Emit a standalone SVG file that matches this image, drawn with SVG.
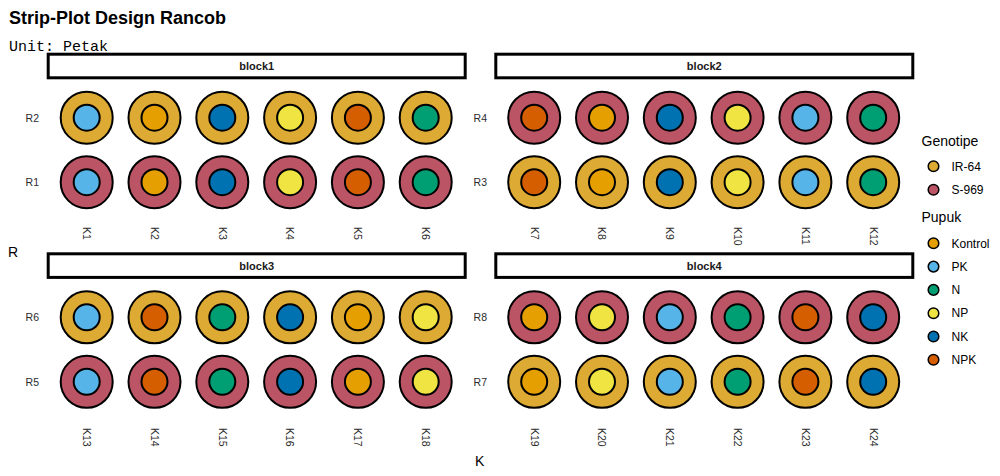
<svg xmlns="http://www.w3.org/2000/svg" width="1000" height="476" viewBox="0 0 1000 476">
<style>
.title{font-family:"Liberation Sans",Arial,sans-serif;font-weight:bold;font-size:18px;fill:#000}
.sub{font-family:"Liberation Mono","Courier New",monospace;font-size:15px;fill:#000}
.strip{fill:#fff;stroke:#000;stroke-width:3}
.stext{font-family:"Liberation Sans",Arial,sans-serif;font-weight:bold;font-size:11px;fill:#1a1a1a;text-anchor:middle}
.tick{font-family:"Liberation Sans",Arial,sans-serif;font-size:10.5px;fill:#2b2b2b}
.rl{text-anchor:end}
.axt{font-family:"Liberation Sans",Arial,sans-serif;font-size:14px;fill:#000}
.ltitle{font-family:"Liberation Sans",Arial,sans-serif;font-size:14px;fill:#000}
.ltext{font-family:"Liberation Sans",Arial,sans-serif;font-size:12px;fill:#000}
circle{stroke:#000;stroke-width:2}
.lk{stroke-width:1.5}
.ir{fill:#DDAA33}.s9{fill:#BB5566}
.ko{fill:#E69F00}.pk{fill:#56B4E9}.n{fill:#009E73}.np{fill:#F0E442}.nk{fill:#0072B2}.npk{fill:#D55E00}
</style>
<rect width="1000" height="476" fill="#fff"/>
<text class="title" x="9" y="24">Strip-Plot Design Rancob</text>
<text class="sub" x="9" y="50.5">Unit: Petak</text>

<g id="strips">
<rect class="strip" x="48.2" y="54.2" width="417" height="23.6"/>
<text class="stext" x="256.7" y="70">block1</text>
<rect class="strip" x="495.8" y="54.2" width="417" height="23.6"/>
<text class="stext" x="704.3" y="70">block2</text>
<rect class="strip" x="48.2" y="253.8" width="417" height="23.6"/>
<text class="stext" x="256.7" y="269.6">block3</text>
<rect class="strip" x="495.8" y="253.8" width="417" height="23.6"/>
<text class="stext" x="704.3" y="269.6">block4</text>
</g>

<g id="row-labels">
<text class="tick rl" x="39" y="121.7">R2</text>
<text class="tick rl" x="39" y="186.2">R1</text>
<text class="tick rl" x="487" y="121.7">R4</text>
<text class="tick rl" x="487" y="186.2">R3</text>
<text class="tick rl" x="39" y="321.3">R6</text>
<text class="tick rl" x="39" y="385.8">R5</text>
<text class="tick rl" x="487" y="321.3">R8</text>
<text class="tick rl" x="487" y="385.8">R7</text>
</g>

<g id="col-labels">
<text class="tick" transform="translate(86.7,227) rotate(90)" dy="0.35em">K1</text>
<text class="tick" transform="translate(154.5,227) rotate(90)" dy="0.35em">K2</text>
<text class="tick" transform="translate(222.3,227) rotate(90)" dy="0.35em">K3</text>
<text class="tick" transform="translate(290.1,227) rotate(90)" dy="0.35em">K4</text>
<text class="tick" transform="translate(357.9,227) rotate(90)" dy="0.35em">K5</text>
<text class="tick" transform="translate(425.7,227) rotate(90)" dy="0.35em">K6</text>
<text class="tick" transform="translate(534.2,227) rotate(90)" dy="0.35em">K7</text>
<text class="tick" transform="translate(602,227) rotate(90)" dy="0.35em">K8</text>
<text class="tick" transform="translate(669.8,227) rotate(90)" dy="0.35em">K9</text>
<text class="tick" transform="translate(737.6,227) rotate(90)" dy="0.35em">K10</text>
<text class="tick" transform="translate(805.4,227) rotate(90)" dy="0.35em">K11</text>
<text class="tick" transform="translate(873.2,227) rotate(90)" dy="0.35em">K12</text>
<text class="tick" transform="translate(86.7,428) rotate(90)" dy="0.35em">K13</text>
<text class="tick" transform="translate(154.5,428) rotate(90)" dy="0.35em">K14</text>
<text class="tick" transform="translate(222.3,428) rotate(90)" dy="0.35em">K15</text>
<text class="tick" transform="translate(290.1,428) rotate(90)" dy="0.35em">K16</text>
<text class="tick" transform="translate(357.9,428) rotate(90)" dy="0.35em">K17</text>
<text class="tick" transform="translate(425.7,428) rotate(90)" dy="0.35em">K18</text>
<text class="tick" transform="translate(534.2,428) rotate(90)" dy="0.35em">K19</text>
<text class="tick" transform="translate(602,428) rotate(90)" dy="0.35em">K20</text>
<text class="tick" transform="translate(669.8,428) rotate(90)" dy="0.35em">K21</text>
<text class="tick" transform="translate(737.6,428) rotate(90)" dy="0.35em">K22</text>
<text class="tick" transform="translate(805.4,428) rotate(90)" dy="0.35em">K23</text>
<text class="tick" transform="translate(873.2,428) rotate(90)" dy="0.35em">K24</text>
</g>

<text class="axt" x="8" y="256.5">R</text>
<text class="axt" x="475" y="465.5">K</text>

<!-- block1 -->
<g id="b1-R2-K1"><circle class="ir" cx="86.7" cy="117.7" r="26"/><circle class="pk" cx="86.7" cy="117.7" r="13"/></g>
<g id="b1-R2-K2"><circle class="ir" cx="154.5" cy="117.7" r="26"/><circle class="ko" cx="154.5" cy="117.7" r="13"/></g>
<g id="b1-R2-K3"><circle class="ir" cx="222.3" cy="117.7" r="26"/><circle class="nk" cx="222.3" cy="117.7" r="13"/></g>
<g id="b1-R2-K4"><circle class="ir" cx="290.1" cy="117.7" r="26"/><circle class="np" cx="290.1" cy="117.7" r="13"/></g>
<g id="b1-R2-K5"><circle class="ir" cx="357.9" cy="117.7" r="26"/><circle class="npk" cx="357.9" cy="117.7" r="13"/></g>
<g id="b1-R2-K6"><circle class="ir" cx="425.7" cy="117.7" r="26"/><circle class="n" cx="425.7" cy="117.7" r="13"/></g>
<g id="b1-R1-K1"><circle class="s9" cx="86.7" cy="182.2" r="26"/><circle class="pk" cx="86.7" cy="182.2" r="13"/></g>
<g id="b1-R1-K2"><circle class="s9" cx="154.5" cy="182.2" r="26"/><circle class="ko" cx="154.5" cy="182.2" r="13"/></g>
<g id="b1-R1-K3"><circle class="s9" cx="222.3" cy="182.2" r="26"/><circle class="nk" cx="222.3" cy="182.2" r="13"/></g>
<g id="b1-R1-K4"><circle class="s9" cx="290.1" cy="182.2" r="26"/><circle class="np" cx="290.1" cy="182.2" r="13"/></g>
<g id="b1-R1-K5"><circle class="s9" cx="357.9" cy="182.2" r="26"/><circle class="npk" cx="357.9" cy="182.2" r="13"/></g>
<g id="b1-R1-K6"><circle class="s9" cx="425.7" cy="182.2" r="26"/><circle class="n" cx="425.7" cy="182.2" r="13"/></g>
<!-- block2 -->
<g id="b2-R4-K7"><circle class="s9" cx="534.2" cy="117.7" r="26"/><circle class="npk" cx="534.2" cy="117.7" r="13"/></g>
<g id="b2-R4-K8"><circle class="s9" cx="602" cy="117.7" r="26"/><circle class="ko" cx="602" cy="117.7" r="13"/></g>
<g id="b2-R4-K9"><circle class="s9" cx="669.8" cy="117.7" r="26"/><circle class="nk" cx="669.8" cy="117.7" r="13"/></g>
<g id="b2-R4-K10"><circle class="s9" cx="737.6" cy="117.7" r="26"/><circle class="np" cx="737.6" cy="117.7" r="13"/></g>
<g id="b2-R4-K11"><circle class="s9" cx="805.4" cy="117.7" r="26"/><circle class="pk" cx="805.4" cy="117.7" r="13"/></g>
<g id="b2-R4-K12"><circle class="s9" cx="873.2" cy="117.7" r="26"/><circle class="n" cx="873.2" cy="117.7" r="13"/></g>
<g id="b2-R3-K7"><circle class="ir" cx="534.2" cy="182.2" r="26"/><circle class="npk" cx="534.2" cy="182.2" r="13"/></g>
<g id="b2-R3-K8"><circle class="ir" cx="602" cy="182.2" r="26"/><circle class="ko" cx="602" cy="182.2" r="13"/></g>
<g id="b2-R3-K9"><circle class="ir" cx="669.8" cy="182.2" r="26"/><circle class="nk" cx="669.8" cy="182.2" r="13"/></g>
<g id="b2-R3-K10"><circle class="ir" cx="737.6" cy="182.2" r="26"/><circle class="np" cx="737.6" cy="182.2" r="13"/></g>
<g id="b2-R3-K11"><circle class="ir" cx="805.4" cy="182.2" r="26"/><circle class="pk" cx="805.4" cy="182.2" r="13"/></g>
<g id="b2-R3-K12"><circle class="ir" cx="873.2" cy="182.2" r="26"/><circle class="n" cx="873.2" cy="182.2" r="13"/></g>
<!-- block3 -->
<g id="b3-R6-K13"><circle class="ir" cx="86.7" cy="317.3" r="26"/><circle class="pk" cx="86.7" cy="317.3" r="13"/></g>
<g id="b3-R6-K14"><circle class="ir" cx="154.5" cy="317.3" r="26"/><circle class="npk" cx="154.5" cy="317.3" r="13"/></g>
<g id="b3-R6-K15"><circle class="ir" cx="222.3" cy="317.3" r="26"/><circle class="n" cx="222.3" cy="317.3" r="13"/></g>
<g id="b3-R6-K16"><circle class="ir" cx="290.1" cy="317.3" r="26"/><circle class="nk" cx="290.1" cy="317.3" r="13"/></g>
<g id="b3-R6-K17"><circle class="ir" cx="357.9" cy="317.3" r="26"/><circle class="ko" cx="357.9" cy="317.3" r="13"/></g>
<g id="b3-R6-K18"><circle class="ir" cx="425.7" cy="317.3" r="26"/><circle class="np" cx="425.7" cy="317.3" r="13"/></g>
<g id="b3-R5-K13"><circle class="s9" cx="86.7" cy="381.8" r="26"/><circle class="pk" cx="86.7" cy="381.8" r="13"/></g>
<g id="b3-R5-K14"><circle class="s9" cx="154.5" cy="381.8" r="26"/><circle class="npk" cx="154.5" cy="381.8" r="13"/></g>
<g id="b3-R5-K15"><circle class="s9" cx="222.3" cy="381.8" r="26"/><circle class="n" cx="222.3" cy="381.8" r="13"/></g>
<g id="b3-R5-K16"><circle class="s9" cx="290.1" cy="381.8" r="26"/><circle class="nk" cx="290.1" cy="381.8" r="13"/></g>
<g id="b3-R5-K17"><circle class="s9" cx="357.9" cy="381.8" r="26"/><circle class="ko" cx="357.9" cy="381.8" r="13"/></g>
<g id="b3-R5-K18"><circle class="s9" cx="425.7" cy="381.8" r="26"/><circle class="np" cx="425.7" cy="381.8" r="13"/></g>
<!-- block4 -->
<g id="b4-R8-K19"><circle class="s9" cx="534.2" cy="317.3" r="26"/><circle class="ko" cx="534.2" cy="317.3" r="13"/></g>
<g id="b4-R8-K20"><circle class="s9" cx="602" cy="317.3" r="26"/><circle class="np" cx="602" cy="317.3" r="13"/></g>
<g id="b4-R8-K21"><circle class="s9" cx="669.8" cy="317.3" r="26"/><circle class="pk" cx="669.8" cy="317.3" r="13"/></g>
<g id="b4-R8-K22"><circle class="s9" cx="737.6" cy="317.3" r="26"/><circle class="n" cx="737.6" cy="317.3" r="13"/></g>
<g id="b4-R8-K23"><circle class="s9" cx="805.4" cy="317.3" r="26"/><circle class="npk" cx="805.4" cy="317.3" r="13"/></g>
<g id="b4-R8-K24"><circle class="s9" cx="873.2" cy="317.3" r="26"/><circle class="nk" cx="873.2" cy="317.3" r="13"/></g>
<g id="b4-R7-K19"><circle class="ir" cx="534.2" cy="381.8" r="26"/><circle class="ko" cx="534.2" cy="381.8" r="13"/></g>
<g id="b4-R7-K20"><circle class="ir" cx="602" cy="381.8" r="26"/><circle class="np" cx="602" cy="381.8" r="13"/></g>
<g id="b4-R7-K21"><circle class="ir" cx="669.8" cy="381.8" r="26"/><circle class="pk" cx="669.8" cy="381.8" r="13"/></g>
<g id="b4-R7-K22"><circle class="ir" cx="737.6" cy="381.8" r="26"/><circle class="n" cx="737.6" cy="381.8" r="13"/></g>
<g id="b4-R7-K23"><circle class="ir" cx="805.4" cy="381.8" r="26"/><circle class="npk" cx="805.4" cy="381.8" r="13"/></g>
<g id="b4-R7-K24"><circle class="ir" cx="873.2" cy="381.8" r="26"/><circle class="nk" cx="873.2" cy="381.8" r="13"/></g>

<g id="legend-genotipe">
<text class="ltitle" x="921.5" y="145.5">Genotipe</text>
<circle class="ir lk" cx="933.5" cy="166.3" r="5.3"/><text class="ltext" x="951.5" y="170.5">IR-64</text>
<circle class="s9 lk" cx="933.5" cy="189.8" r="5.3"/><text class="ltext" x="951.5" y="194">S-969</text>
</g>
<g id="legend-pupuk">
<text class="ltitle" x="921.5" y="222.3">Pupuk</text>
<circle class="ko lk" cx="933.5" cy="243.3" r="5.3"/><text class="ltext" x="951.5" y="247.5">Kontrol</text>
<circle class="pk lk" cx="933.5" cy="266.6" r="5.3"/><text class="ltext" x="951.5" y="270.8">PK</text>
<circle class="n lk" cx="933.5" cy="289.9" r="5.3"/><text class="ltext" x="951.5" y="294.1">N</text>
<circle class="np lk" cx="933.5" cy="313.2" r="5.3"/><text class="ltext" x="951.5" y="317.4">NP</text>
<circle class="nk lk" cx="933.5" cy="336.5" r="5.3"/><text class="ltext" x="951.5" y="340.7">NK</text>
<circle class="npk lk" cx="933.5" cy="359.8" r="5.3"/><text class="ltext" x="951.5" y="364">NPK</text>
</g>
</svg>
